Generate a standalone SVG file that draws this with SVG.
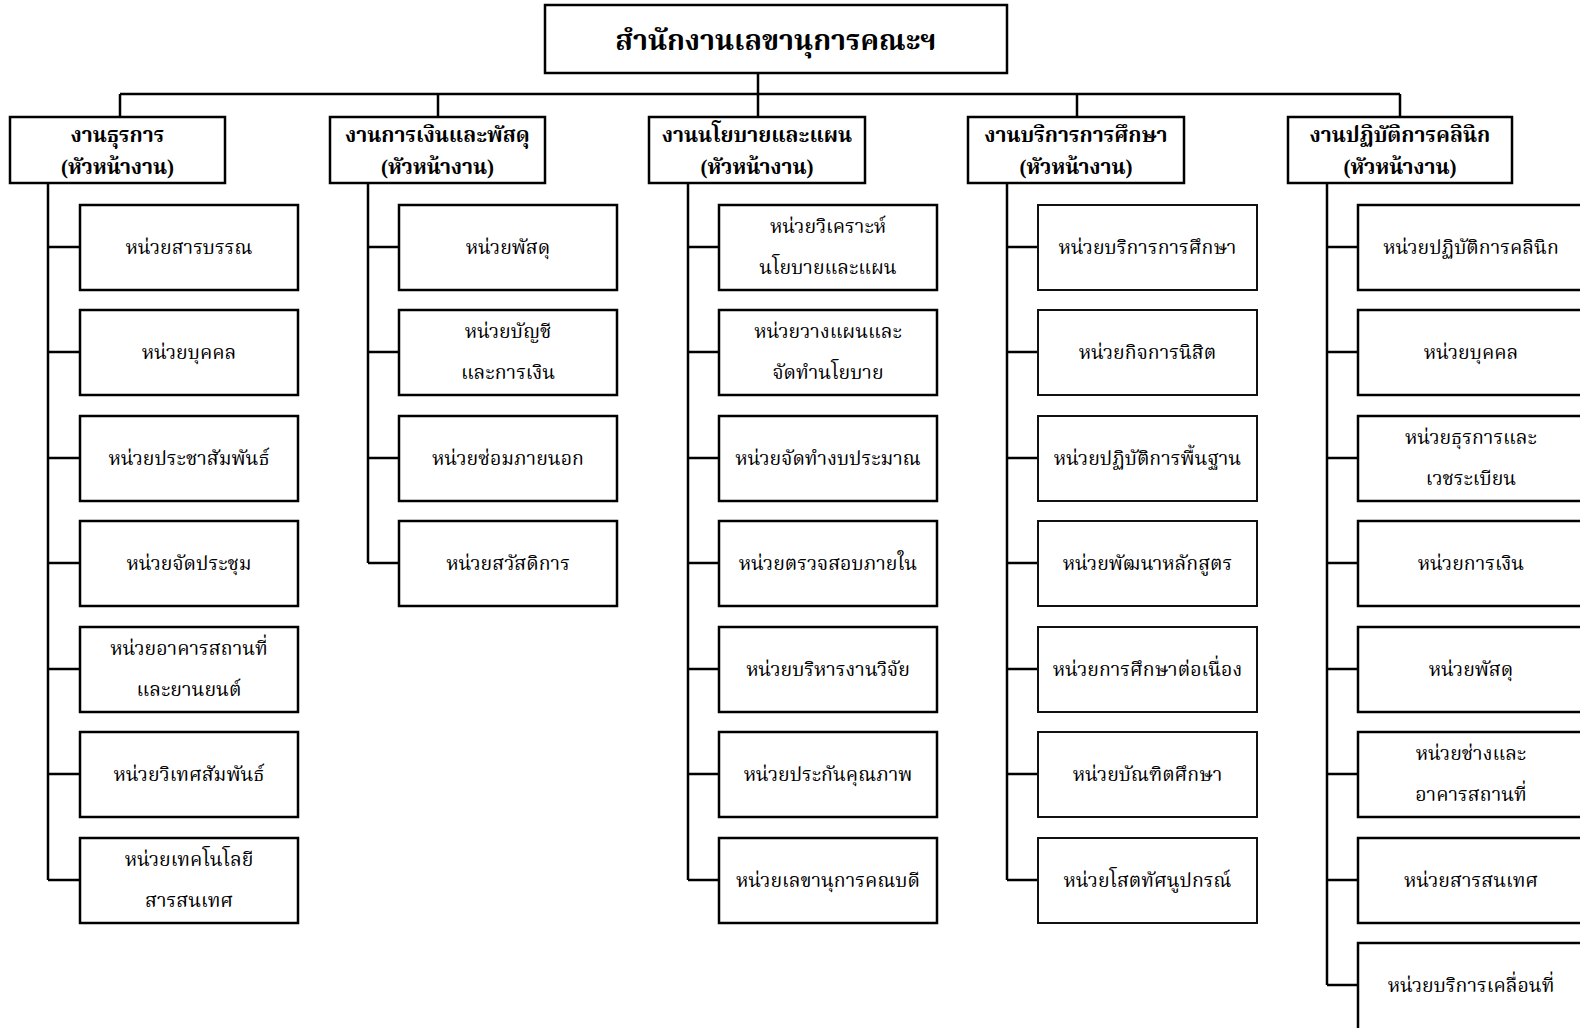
<svg xmlns="http://www.w3.org/2000/svg" width="1580" height="1028" viewBox="0 0 1580 1028">
<style>
.bx{fill:#fff;stroke:#000;stroke-width:2.5}
.bx4{fill:#fff;stroke:#111;stroke-width:2}
.ln{fill:none;stroke:#000;stroke-width:2.5}
text{font-family:"Liberation Serif","Noto Serif Thai","Noto Sans Thai","Noto Sans",serif;text-anchor:middle;fill:#000}
.t{font-size:28.5px;font-weight:bold}
.h{font-size:21px;font-weight:bold}
.c{font-size:19.5px;font-weight:400}
</style>
<rect width="1580" height="1028" fill="#fff"/>
<g id="connectors">
<path class="ln" d="M758 73V94M120 94H1400M120 94V117M438 94V117M758 94V117M1077 94V117M1400 94V117"/>
<path class="ln" d="M48 183V880M48 247H80M48 352H80M48 458H80M48 563H80M48 669H80M48 774H80M48 880H80"/>
<path class="ln" d="M368 183V563M368 247H399M368 352H399M368 458H399M368 563H399"/>
<path class="ln" d="M688 183V880M688 247H719M688 352H719M688 458H719M688 563H719M688 669H719M688 774H719M688 880H719"/>
<path class="ln" d="M1007 183V880M1007 247H1038M1007 352H1038M1007 458H1038M1007 563H1038M1007 669H1038M1007 774H1038M1007 880H1038"/>
<path class="ln" d="M1327 183V985M1327 247H1358M1327 352H1358M1327 458H1358M1327 563H1358M1327 669H1358M1327 774H1358M1327 880H1358M1327 985H1358"/>
</g>
<g id="top"><rect class="bx" x="545" y="5" width="462" height="68"/><text class="t" x="776" y="50">สำนักงานเลขานุการคณะฯ</text></g>
<g id="h1"><rect class="bx" x="10" y="117" width="215" height="66"/><text class="h" x="117.5" y="142">งานธุรการ</text><text class="h" x="117.5" y="174">(หัวหน้างาน)</text></g>
<g id="h2"><rect class="bx" x="330" y="117" width="215" height="66"/><text class="h" x="437.5" y="142">งานการเงินและพัสดุ</text><text class="h" x="437.5" y="174">(หัวหน้างาน)</text></g>
<g id="h3"><rect class="bx" x="649" y="117" width="216" height="66"/><text class="h" x="757" y="142">งานนโยบายและแผน</text><text class="h" x="757" y="174">(หัวหน้างาน)</text></g>
<g id="h4"><rect class="bx" x="968" y="117" width="216" height="66"/><text class="h" x="1076" y="142">งานบริการการศึกษา</text><text class="h" x="1076" y="174">(หัวหน้างาน)</text></g>
<g id="h5"><rect class="bx" x="1288" y="117" width="224" height="66"/><text class="h" x="1400" y="142">งานปฏิบัติการคลินิก</text><text class="h" x="1400" y="174">(หัวหน้างาน)</text></g>

<g id="c1r1"><rect class="bx" x="80" y="205" width="218" height="85"/><text class="c" x="189" y="254">หน่วยสารบรรณ</text></g>
<g id="c1r2"><rect class="bx" x="80" y="310" width="218" height="85"/><text class="c" x="189" y="359">หน่วยบุคคล</text></g>
<g id="c1r3"><rect class="bx" x="80" y="416" width="218" height="85"/><text class="c" x="189" y="465">หน่วยประชาสัมพันธ์</text></g>
<g id="c1r4"><rect class="bx" x="80" y="521" width="218" height="85"/><text class="c" x="189" y="570">หน่วยจัดประชุม</text></g>
<g id="c1r5"><rect class="bx" x="80" y="627" width="218" height="85"/><text class="c" x="189" y="655">หน่วยอาคารสถานที่</text><text class="c" x="189" y="696">และยานยนต์</text></g>
<g id="c1r6"><rect class="bx" x="80" y="732" width="218" height="85"/><text class="c" x="189" y="781">หน่วยวิเทศสัมพันธ์</text></g>
<g id="c1r7"><rect class="bx" x="80" y="838" width="218" height="85"/><text class="c" x="189" y="866">หน่วยเทคโนโลยี</text><text class="c" x="189" y="907">สารสนเทศ</text></g>

<g id="c2r1"><rect class="bx" x="399" y="205" width="218" height="85"/><text class="c" x="508" y="254">หน่วยพัสดุ</text></g>
<g id="c2r2"><rect class="bx" x="399" y="310" width="218" height="85"/><text class="c" x="508" y="338">หน่วยบัญชี</text><text class="c" x="508" y="379">และการเงิน</text></g>
<g id="c2r3"><rect class="bx" x="399" y="416" width="218" height="85"/><text class="c" x="508" y="465">หน่วยซ่อมภายนอก</text></g>
<g id="c2r4"><rect class="bx" x="399" y="521" width="218" height="85"/><text class="c" x="508" y="570">หน่วยสวัสดิการ</text></g>

<g id="c3r1"><rect class="bx" x="719" y="205" width="218" height="85"/><text class="c" x="828" y="233">หน่วยวิเคราะห์</text><text class="c" x="828" y="274">นโยบายและแผน</text></g>
<g id="c3r2"><rect class="bx" x="719" y="310" width="218" height="85"/><text class="c" x="828" y="338">หน่วยวางแผนและ</text><text class="c" x="828" y="379">จัดทำนโยบาย</text></g>
<g id="c3r3"><rect class="bx" x="719" y="416" width="218" height="85"/><text class="c" x="828" y="465">หน่วยจัดทำงบประมาณ</text></g>
<g id="c3r4"><rect class="bx" x="719" y="521" width="218" height="85"/><text class="c" x="828" y="570">หน่วยตรวจสอบภายใน</text></g>
<g id="c3r5"><rect class="bx" x="719" y="627" width="218" height="85"/><text class="c" x="828" y="676">หน่วยบริหารงานวิจัย</text></g>
<g id="c3r6"><rect class="bx" x="719" y="732" width="218" height="85"/><text class="c" x="828" y="781">หน่วยประกันคุณภาพ</text></g>
<g id="c3r7"><rect class="bx" x="719" y="838" width="218" height="85"/><text class="c" x="828" y="887">หน่วยเลขานุการคณบดี</text></g>

<g id="c4r1"><rect class="bx4" x="1038" y="205" width="219" height="85"/><text class="c" x="1147.5" y="254">หน่วยบริการการศึกษา</text></g>
<g id="c4r2"><rect class="bx4" x="1038" y="310" width="219" height="85"/><text class="c" x="1147.5" y="359">หน่วยกิจการนิสิต</text></g>
<g id="c4r3"><rect class="bx4" x="1038" y="416" width="219" height="85"/><text class="c" x="1147.5" y="465">หน่วยปฏิบัติการพื้นฐาน</text></g>
<g id="c4r4"><rect class="bx4" x="1038" y="521" width="219" height="85"/><text class="c" x="1147.5" y="570">หน่วยพัฒนาหลักสูตร</text></g>
<g id="c4r5"><rect class="bx4" x="1038" y="627" width="219" height="85"/><text class="c" x="1147.5" y="676">หน่วยการศึกษาต่อเนื่อง</text></g>
<g id="c4r6"><rect class="bx4" x="1038" y="732" width="219" height="85"/><text class="c" x="1147.5" y="781">หน่วยบัณฑิตศึกษา</text></g>
<g id="c4r7"><rect class="bx4" x="1038" y="838" width="219" height="85"/><text class="c" x="1147.5" y="887">หน่วยโสตทัศนูปกรณ์</text></g>

<g id="c5r1"><rect class="bx" x="1358" y="205" width="226" height="85"/><text class="c" x="1471" y="254">หน่วยปฏิบัติการคลินิก</text></g>
<g id="c5r2"><rect class="bx" x="1358" y="310" width="226" height="85"/><text class="c" x="1471" y="359">หน่วยบุคคล</text></g>
<g id="c5r3"><rect class="bx" x="1358" y="416" width="226" height="85"/><text class="c" x="1471" y="444">หน่วยธุรการและ</text><text class="c" x="1471" y="485">เวชระเบียน</text></g>
<g id="c5r4"><rect class="bx" x="1358" y="521" width="226" height="85"/><text class="c" x="1471" y="570">หน่วยการเงิน</text></g>
<g id="c5r5"><rect class="bx" x="1358" y="627" width="226" height="85"/><text class="c" x="1471" y="676">หน่วยพัสดุ</text></g>
<g id="c5r6"><rect class="bx" x="1358" y="732" width="226" height="85"/><text class="c" x="1471" y="760">หน่วยช่างและ</text><text class="c" x="1471" y="801">อาคารสถานที่</text></g>
<g id="c5r7"><rect class="bx" x="1358" y="838" width="226" height="85"/><text class="c" x="1471" y="887">หน่วยสารสนเทศ</text></g>
<g id="c5r8"><rect class="bx" x="1358" y="943" width="226" height="100"/><text class="c" x="1471" y="992">หน่วยบริการเคลื่อนที่</text></g>
</svg>
